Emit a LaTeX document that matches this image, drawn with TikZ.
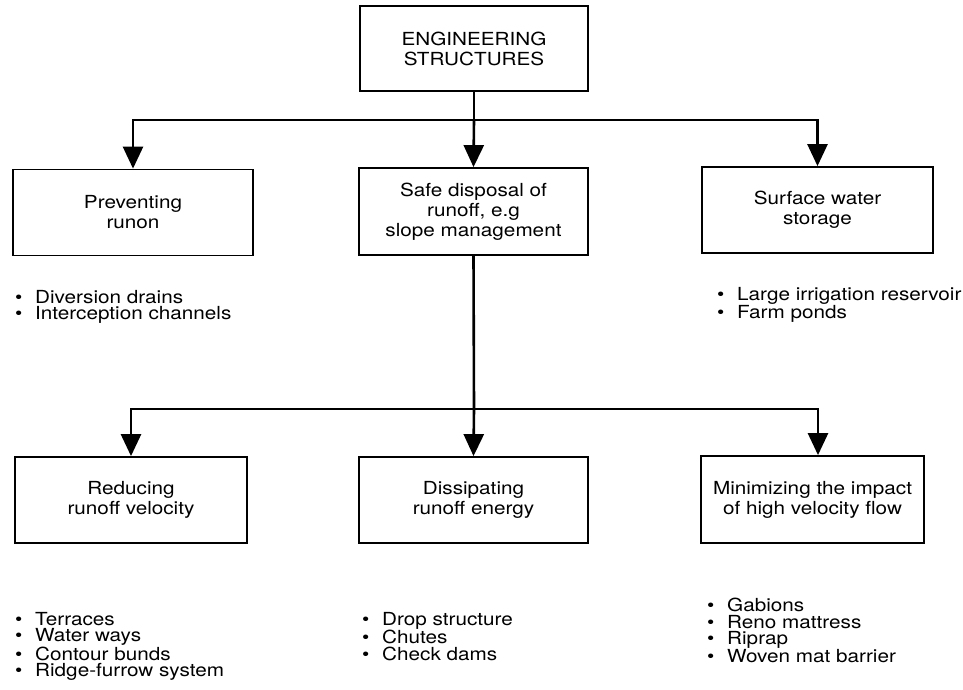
\documentclass[tikz,border=0pt]{standalone}
\usepackage{fontspec}
\setmainfont{TeX Gyre Heros}[FakeStretch=1.15]
\usetikzlibrary{arrows.meta}
\newcommand\bitem[1]{\makebox[20pt][l]{\textbullet}#1}
\begin{document}
\begin{tikzpicture}[x=1pt,y=-1pt,
  box/.style={draw, line width=1.8pt, minimum height=86pt, align=center,
    font=\fontsize{18}{20}\selectfont, inner sep=0pt},
  list/.style={align=left, font=\fontsize{18}{16.5}\selectfont, inner sep=0pt, anchor=north west},
  conn/.style={line width=2.6pt},
  arr/.style={line width=2.6pt, -{Triangle[width=20pt,length=22pt]}}]
\useasboundingbox[fill=white] (0,0) rectangle (963,689);
% boxes
\node[box, minimum width=228pt, minimum height=85pt] (top) at (474,48.5) {ENGINEERING\\STRUCTURES};
\node[box, minimum width=240pt] (ul) at (133,212.5) {Preventing\\runon};
\node[box, minimum width=229pt, minimum height=87pt] (um) at (473.5,211.5) {Safe disposal of\\runoff, e.g\\slope management};
\node[box, minimum width=231pt] (ur) at (817.5,210) {Surface water\\storage};
\node[box, minimum width=232pt] (ll) at (131,500) {Reducing\\runoff velocity};
\node[box, minimum width=229pt] (lm) at (473.5,500) {Dissipating\\runoff energy};
\node[box, minimum width=223pt, minimum height=87pt] (lr) at (812.5,499.5) {Minimizing the impact\\of high velocity flow};
% junctions
\coordinate (j1) at (474,120);
\coordinate (j2) at (474,409);
\draw[conn] (top.south) -- (j1);
\draw[arr] (j1) -| (ul.north);
\draw[arr] (j1) -- (um.north);
\draw[arr] (j1) -| (ur.north);
\draw[conn] (um.south) -- (j2);
\draw[arr] (j2) -| (ll.north);
\draw[arr] (j2) -- (lm.north);
\draw[arr] (j2) -| ([xshift=5.5pt]lr.north);
% lists
\node[list] (t1) at (15,290) {\bitem{Diversion drains}\\\bitem{Interception channels}};
\node[list] (t2) at (717,287) {\bitem{Large irrigation reservoir}\\\bitem{Farm ponds}};
\node[list] (t3) at (15,612) {\bitem{Terraces}\\\bitem{Water ways}\\\bitem{Contour bunds}\\\bitem{Ridge-furrow system}};
\node[list] (t4) at (362,612) {\bitem{Drop structure}\\\bitem{Chutes}\\\bitem{Check dams}};
\node[list] (t5) at (707,598) {\bitem{Gabions}\\\bitem{Reno mattress}\\\bitem{Riprap}\\\bitem{Woven mat barrier}};
\end{tikzpicture}
\end{document}
